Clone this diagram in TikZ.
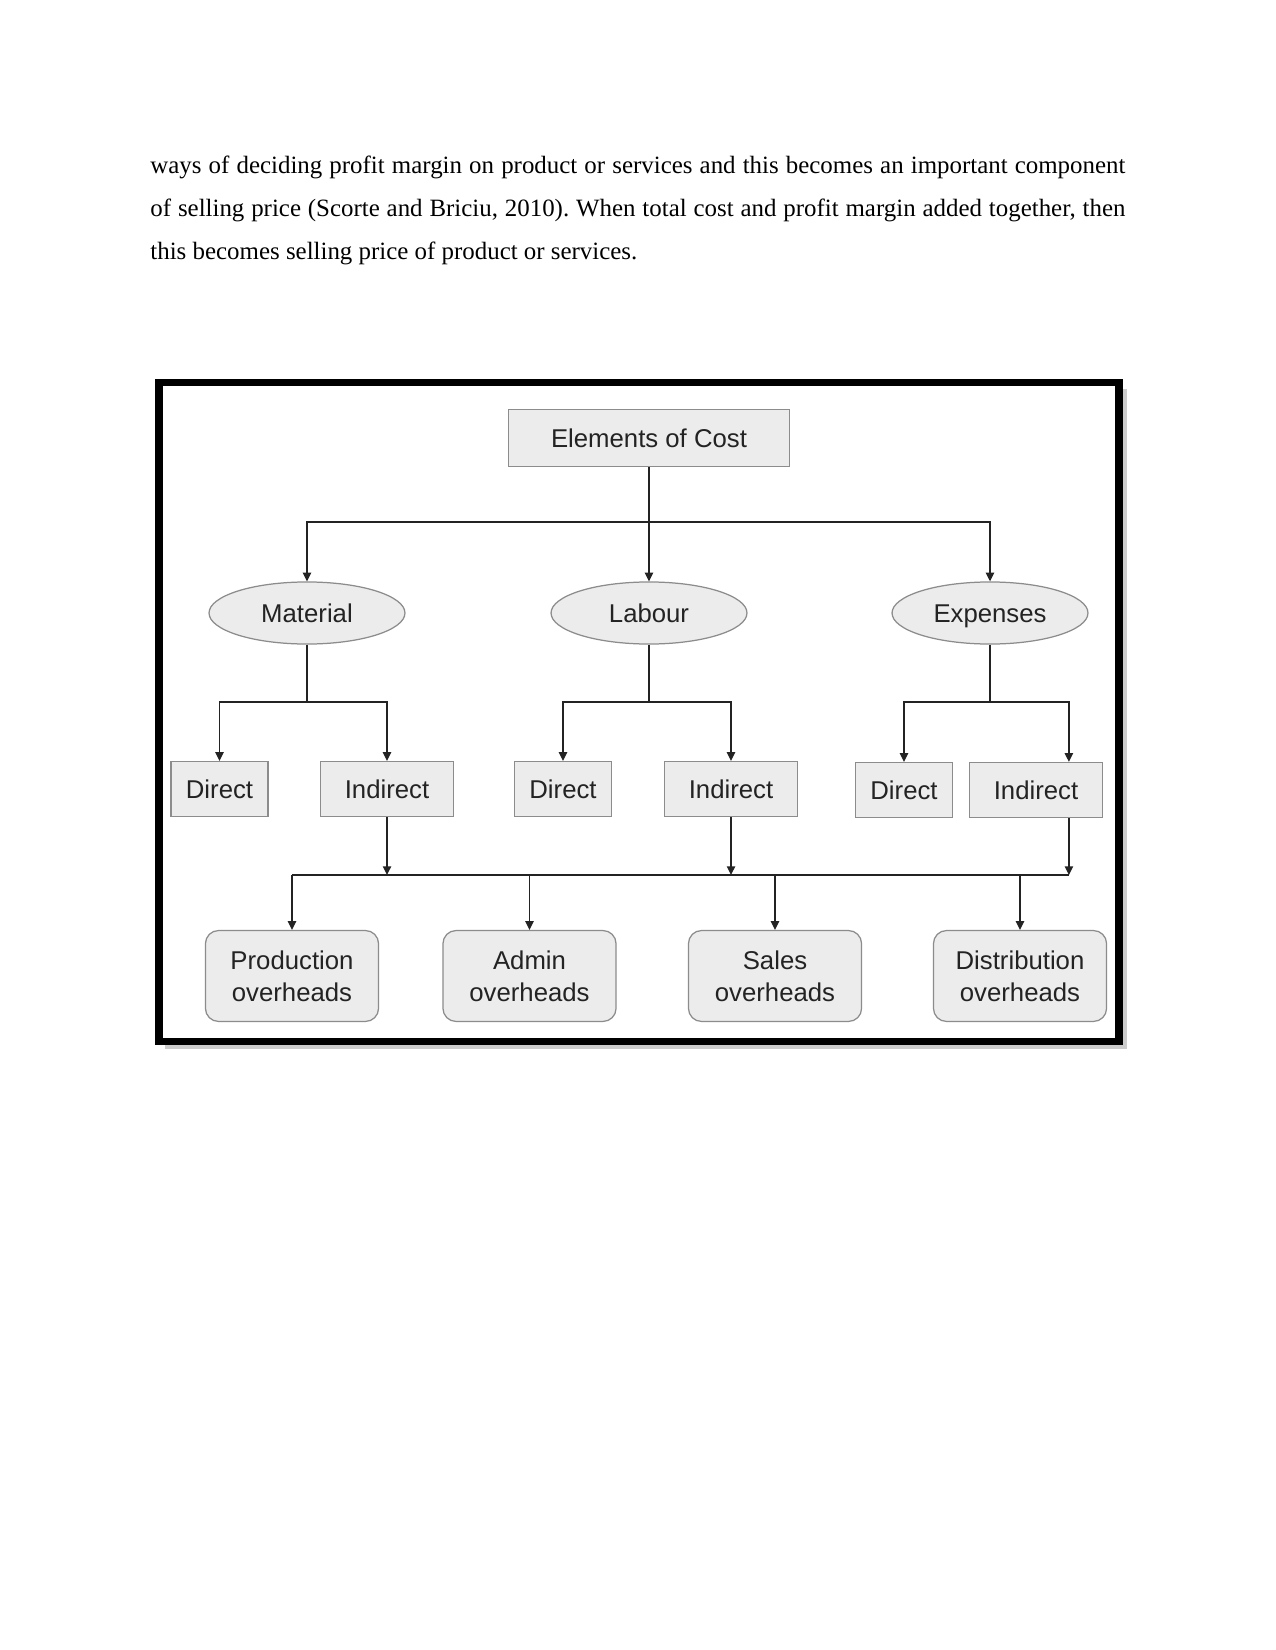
\documentclass[tikz,border=0pt]{standalone}
\usepackage{fontspec}
\setmainfont{Liberation Serif}
\newfontfamily\diagfont{Liberation Sans}
\usetikzlibrary{arrows.meta,shapes.geometric}
\definecolor{boxgray}{RGB}{236,236,236}
\definecolor{edgegray}{RGB}{140,140,140}
\definecolor{inkgray}{RGB}{35,35,35}

\begin{document}
\begin{tikzpicture}[x=0.4818pt,y=-0.4818pt,
  every node/.style={font=\diagfont\fontsize{12.4}{15.4}\selectfont,text=inkgray,align=center,inner sep=0pt},
  sqbox/.style={draw=edgegray,fill=boxgray,line width=0.6pt,minimum height=26.5pt,text height=8.9pt,text depth=0pt},
  dbox/.style={sqbox,minimum width=46.7pt},
  ibox/.style={sqbox,minimum width=64.1pt},
  oval/.style={ellipse,draw=edgegray,fill=boxgray,line width=0.6pt,minimum width=94.4pt,minimum height=29.9pt,text height=8.9pt,text depth=0pt},
  ovh/.style={draw=edgegray,fill=boxgray,rounded corners=6.3pt,line width=0.6pt,minimum width=83.4pt,minimum height=43.8pt},
  arr/.style={-{Triangle[length=4.2pt,width=4pt]},line width=0.7pt,draw=inkgray},
  link/.style={line width=0.7pt,draw=inkgray}]
\useasboundingbox[fill=white] (0,0) rectangle (1275,1650);
\node[anchor=north west,text width=469.75pt,align=justify,text=black,
  font=\rmfamily\frenchspacing\fontsize{12}{20.7}\selectfont] (para) at (150,155.5)
  {ways of deciding profit margin on product or services and this becomes an important component\linebreak
   of selling price (Scorte and Briciu, 2010). When total cost and profit margin added together, then\linebreak
   this becomes selling price of product or services.};
\draw[black!20,line width=2pt] (1125,389) -- (1125,1047) -- (165,1047);
\draw[line width=3.4pt] (159,382.5) rectangle (1119,1041.3);
\node[sqbox,minimum width=135.4pt,minimum height=27.5pt] (cost) at (649,438) {Elements of Cost};
\node[oval] (mat) at (307,613) {Material};
\node[oval] (lab) at (649,613) {Labour};
\node[oval] (exp) at (990,613) {Expenses};
\node[dbox] (mdir) at (219.5,789) {Direct};
\node[ibox] (mind) at (387,789) {Indirect};
\node[dbox] (ldir) at (563,789) {Direct};
\node[ibox] (lind) at (731,789) {Indirect};
\node[dbox] (edir) at (904,790) {Direct};
\node[ibox] (eind) at (1036,790) {Indirect};
\foreach \n/\x/\t in {prod/292/Production,adm/529.5/Admin,sal/775/Sales,dis/1020/Distribution}
  \node[ovh] (\n) at (\x,976) {\t\\overheads};
\coordinate (split) at (649,522);
\draw[arr] (cost.south) -- (lab.north);
\draw[arr] (split) -| (mat.north);
\draw[arr] (split) -| (exp.north);
\coordinate (mj) at (307,702);
\coordinate (lj) at (649,702);
\coordinate (ej) at (990,702);
\draw[link] (mat.south) -- (mj);
\draw[link] (lab.south) -- (lj);
\draw[link] (exp.south) -- (ej);
\draw[arr] (mj) -| (mdir.north);
\draw[arr] (mj) -| (mind.north);
\draw[arr] (lj) -| (ldir.north);
\draw[arr] (lj) -| (lind.north);
\draw[arr] (ej) -| (edir.north);
\coordinate (ein) at ([xshift=-16.5pt]eind.north east);
\coordinate (eout) at ([xshift=-16.5pt]eind.south east);
\draw[arr] (ej) -| (ein);
\coordinate (bus) at (0,875);
\draw[link] (prod.north |- bus) -- (eout |- bus);
\draw[arr] (mind.south) -- (mind.south |- bus);
\draw[arr] (lind.south) -- (lind.south |- bus);
\draw[arr] (eout) -- (eout |- bus);
\foreach \n in {prod,adm,sal,dis}
  \draw[arr] (\n.north |- bus) -- (\n.north);
\end{tikzpicture}
\end{document}
